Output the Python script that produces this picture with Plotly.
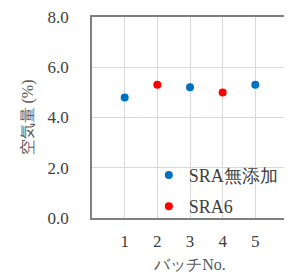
import plotly.graph_objects as go

batches_a = [1, 3, 5]
values_a = [4.8, 5.2, 5.3]
batches_b = [2, 4]
values_b = [5.3, 5.0]
name_a = "SRA無添加"
name_b = "SRA6"
y_ticks = [0, 2, 4, 6, 8]
y_tick_labels = ["0.0", "2.0", "4.0", "6.0", "8.0"]
x_ticks = [1, 2, 3, 4, 5]

font_family = "Liberation Serif"

fig = go.Figure()
fig.add_trace(go.Scatter(x=batches_a, y=values_a, mode="markers", name=name_a,
                         legendgroup="a",
                         marker=dict(color="#0070C0", size=8)))
fig.add_trace(go.Scatter(x=batches_b, y=values_b, mode="markers", name=name_b,
                         legendgroup="b",
                         marker=dict(color="#FF0000", size=8)))

fig.update_layout(
    width=284, height=268,
    margin=dict(l=84, r=4, t=9, b=58),
    plot_bgcolor="white", paper_bgcolor="white",
    font=dict(family=font_family, size=17, color="#404040"),
    showlegend=True,
    legend=dict(x=0.29, y=0.305, xanchor="left", yanchor="top",
                bgcolor="rgba(0,0,0,0)", tracegroupgap=5,
                font=dict(size=18, color="#404040", family=font_family)),
    xaxis=dict(range=[0, 6], tickvals=x_ticks, ticktext=[str(v) for v in x_ticks],
               showgrid=True, gridcolor="#d9d9d9", gridwidth=1,
               showline=True, linecolor="#7f7f7f", linewidth=1.5, mirror=True,
               zeroline=False, ticks="", ticklabelstandoff=7, automargin=False,
               ticklabeloverflow="allow",
               title=dict(text="バッチNo.", font=dict(size=16, color="#595959"), standoff=9)),
    yaxis=dict(range=[0, 8], tickvals=y_ticks, ticktext=y_tick_labels,
               showgrid=True, gridcolor="#d9d9d9", gridwidth=1,
               showline=True, linecolor="#7f7f7f", linewidth=1.5, mirror=True,
               zeroline=False, ticks="", ticklabelstandoff=18, automargin=False,
               ticklabeloverflow="allow",
               title=dict(text="空気量 (%)", font=dict(size=16, color="#595959"), standoff=10)),
)

fig.write_html("out.html")
